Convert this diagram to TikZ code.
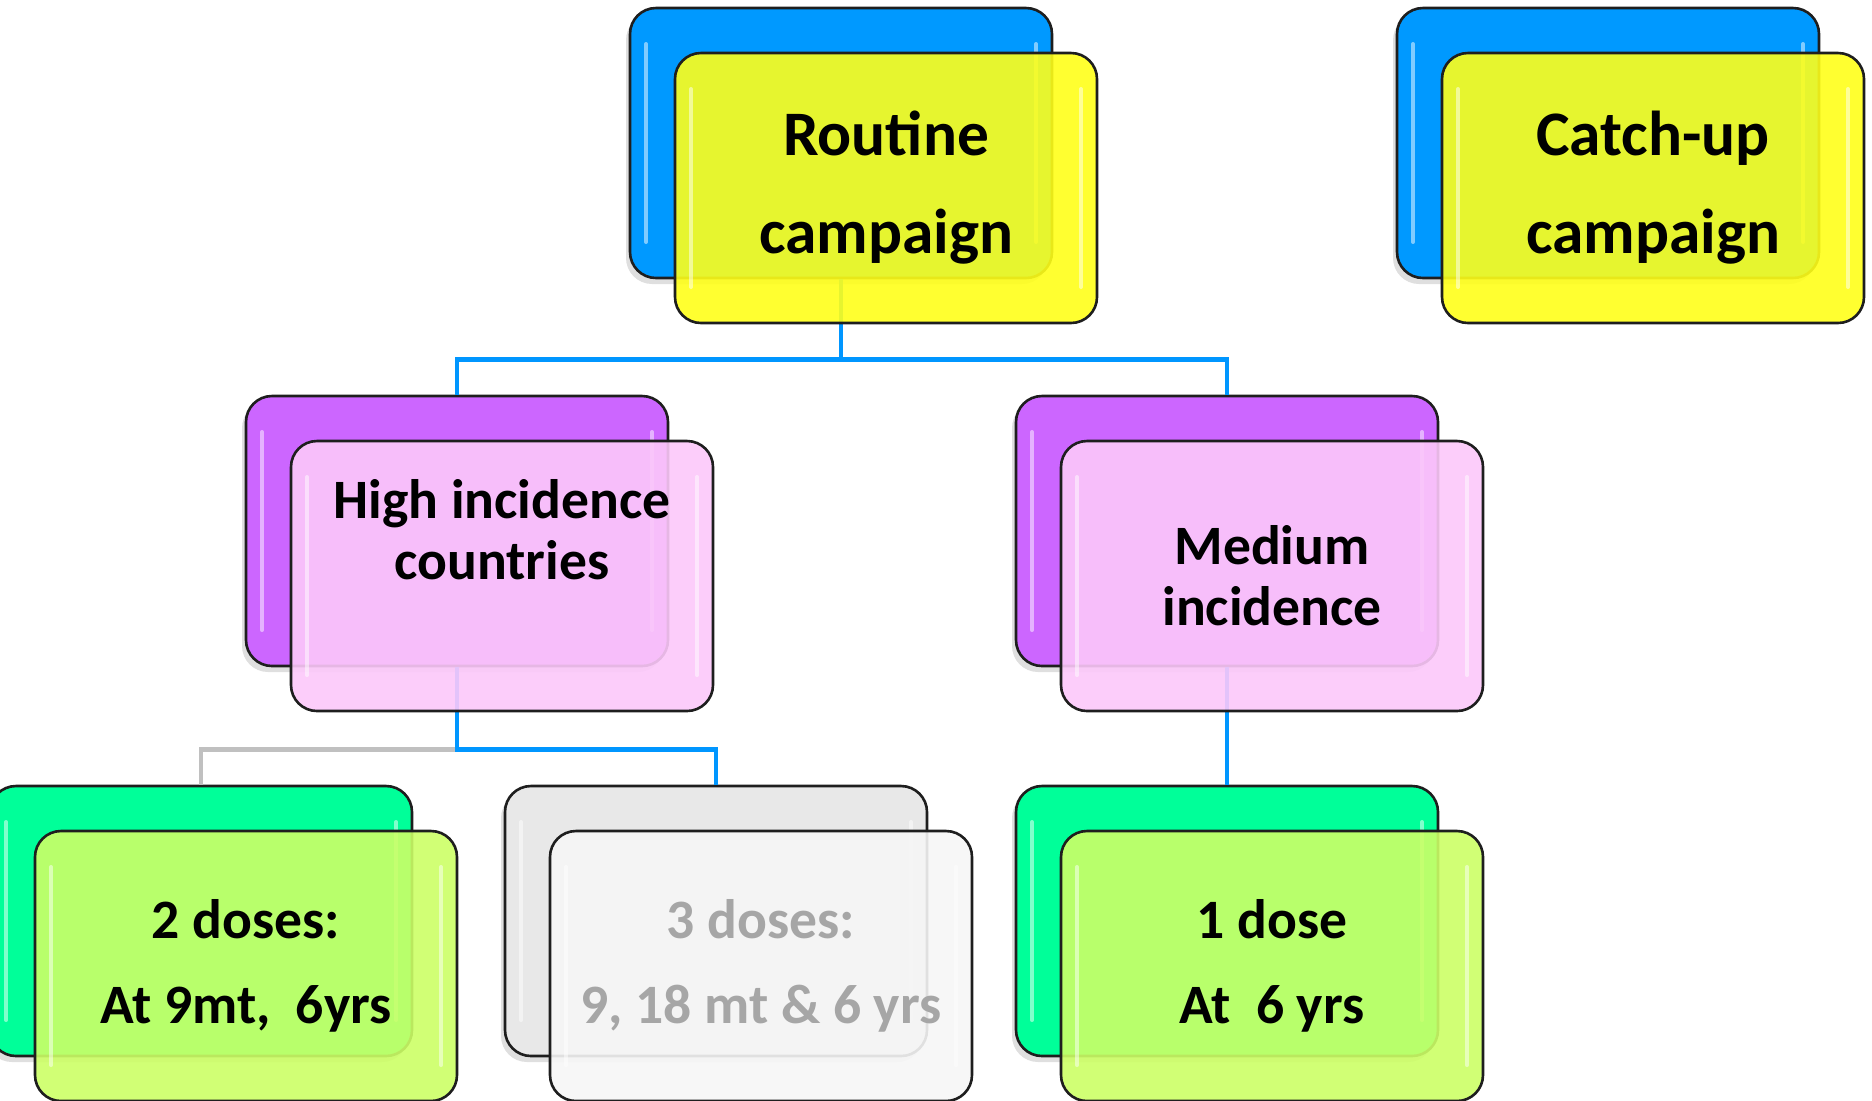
\documentclass[tikz,border=0pt]{standalone}
\usepackage{fontspec}
\setmainfont{Carlito}
\usetikzlibrary{shadows,calc}
\definecolor{cblue}{RGB}{0,153,255}
\definecolor{cyellow}{RGB}{255,255,25}
\definecolor{cpurple}{RGB}{204,102,255}
\definecolor{cpink}{RGB}{252,200,250}
\definecolor{cgreen}{RGB}{0,255,153}
\definecolor{clime}{RGB}{204,255,102}
\definecolor{cgreyback}{RGB}{232,232,232}
\definecolor{cgreyfront}{RGB}{246,246,246}
\definecolor{greytext}{RGB}{166,166,166}
\definecolor{boxline}{RGB}{30,30,30}
\definecolor{lineblue}{RGB}{0,150,255}
\definecolor{linegrey}{RGB}{192,192,192}
\tikzset{
  box/.style={draw=boxline, line width=1.3pt, rounded corners=13pt,
    minimum width=211pt, minimum height=135pt, inner sep=0pt,
    path picture={
      \draw[white, opacity=0.5, line width=2pt, line cap=round]
        ([xshift=8pt,yshift=-18pt]path picture bounding box.north west) --
        ([xshift=8pt,yshift=18pt]path picture bounding box.south west);
      \draw[white, opacity=0.5, line width=2pt, line cap=round]
        ([xshift=-8pt,yshift=-18pt]path picture bounding box.north east) --
        ([xshift=-8pt,yshift=18pt]path picture bounding box.south east);
    }},
  backbox/.style={box, drop shadow={opacity=0.25, shadow xshift=-2pt, shadow yshift=-3pt}},
  frontbox/.style={box, fill opacity=0.9, text opacity=1, align=center},
  bigtxt/.style={font=\fontsize{31.7}{49}\selectfont\bfseries},
  midtxt/.style={font=\fontsize{27.8}{30.5}\selectfont\bfseries},
  lowtxt/.style={font=\fontsize{27.8}{42.5}\selectfont\bfseries},
  conn/.style={draw=lineblue, line width=2.4pt},
  gconn/.style={draw=linegrey, line width=2.4pt},
}
\begin{document}
\begin{tikzpicture}[x=0.5pt,y=-0.5pt]
\useasboundingbox (0,0) rectangle (1872,1100);
% back boxes
\node[backbox, fill=cblue] (rb) at (841,143) {};
\node[backbox, fill=cblue] (cb) at (1608,143) {};
\node[backbox, fill=cpurple] (hb) at (457,531) {};
\node[backbox, fill=cpurple] (mb) at (1227,531) {};
\node[backbox, fill=cgreen] (lb) at (201,921) {};
\node[backbox, fill=cgreyback] (gb) at (716,921) {};
\node[backbox, fill=cgreen] (db) at (1227,921) {};
% connectors
\coordinate (j1) at ($(rb.south)+(0,80)$);
\coordinate (j2) at ($(hb.south)+(0,82)$);
\draw[gconn] (j2) -| (lb.north);
\draw[conn] (rb.south) -- (j1) -| (hb.north);
\draw[conn] (j1) -| (mb.north);
\draw[conn] (hb.south) -- (j2) -| (gb.north);
\draw[conn] (mb.south) -- (db.north);
% front boxes
\node[frontbox, fill=cyellow, bigtxt] (rf) at (886,188) {Routine\\campaign};
\node[frontbox, fill=cyellow, bigtxt] (cf) at (1653,188) {Catch-up\\campaign};
\node[frontbox, fill=cpink] (hf) at (502,576) {};
\node[midtxt, align=center] (ht) at ([yshift=23pt]hf.center) {High incidence\\countries};
\node[frontbox, fill=cpink, midtxt] (mf) at (1272,576) {Medium\\incidence};
\node[frontbox, fill=clime, lowtxt] (lf) at (246,966) {2 doses:\\At 9mt,\ \ 6yrs};
\node[frontbox, fill=cgreyfront, lowtxt, text=greytext] (gf) at (761,966) {3 doses:\\9, 18 mt \& 6 yrs};
\node[frontbox, fill=clime, lowtxt] (df) at (1272,966) {1 dose\\At\ \ 6 yrs};
\end{tikzpicture}
\end{document}
